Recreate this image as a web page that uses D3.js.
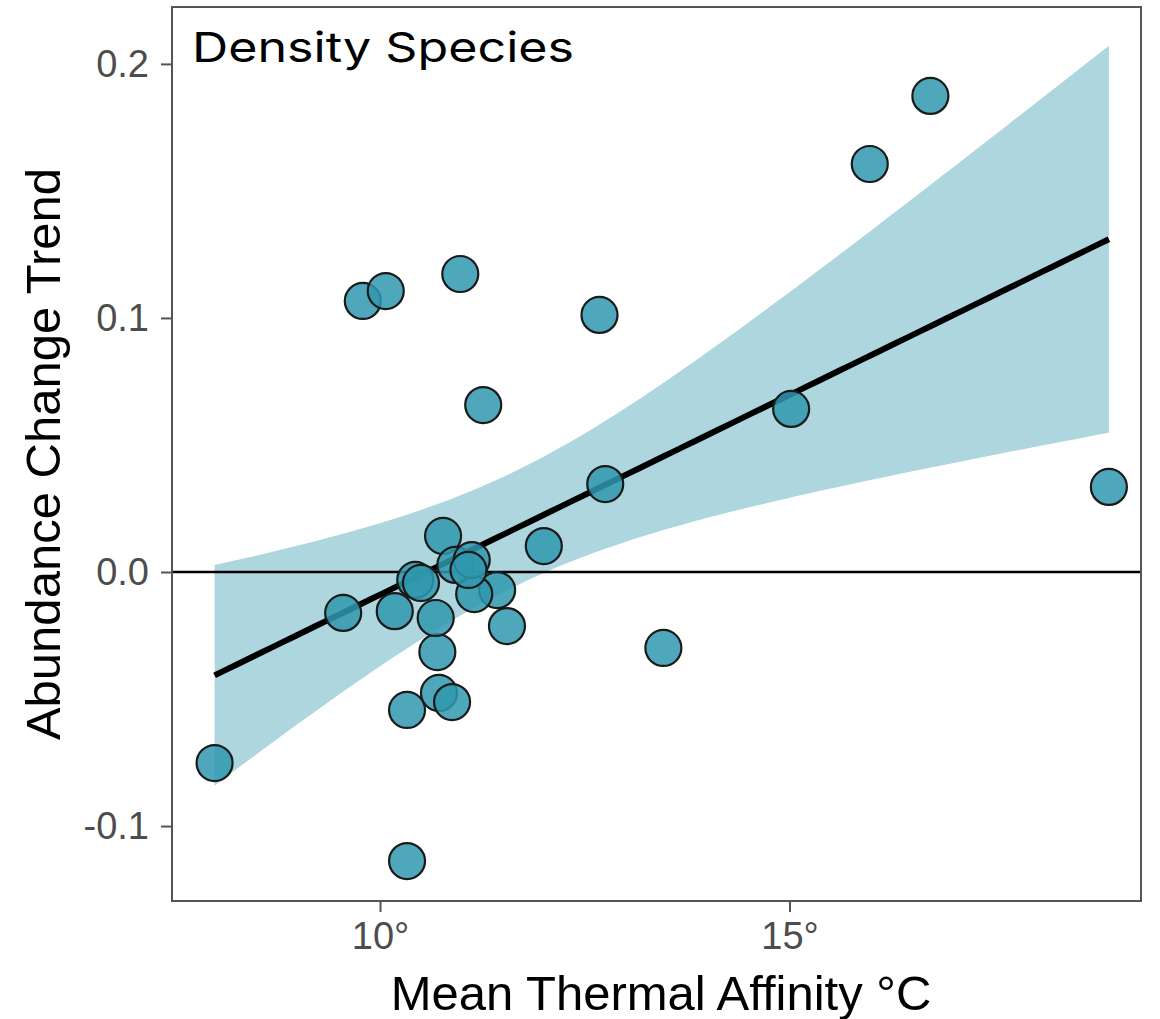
<!DOCTYPE html>
<html>
<head>
<meta charset="utf-8">
<script src="https://cdn.jsdelivr.net/npm/d3@7"></script>
<style>
	body { margin: 0; background: #fff; }
	svg { display: block; }
</style>
</head>
<body>
<svg id="chart" width="1160" height="1019"></svg>
<script>
'use strict'

// thermal affinity (deg C) and abundance change trend, one entry per species
var thermal = [7.98, 16.72, 15.98, 9.79, 10.07, 10.98, 12.68, 11.26, 15.02, 12.75,
	18.90, 12.00, 10.77, 13.46, 9.55, 10.18, 10.33, 10.33, 10.72, 10.88,
	10.70, 10.68, 11.55, 11.43, 11.15, 10.43, 10.50, 10.92, 11.12, 11.08];
var trend = [-0.0752, 0.1874, 0.1606, 0.1067, 0.1106, 0.1173, 0.1012, 0.0657, 0.0642, 0.0346,
	0.0335, 0.0102, 0.0142, -0.0299, -0.0161, -0.0154, -0.1138, -0.0543, -0.0476, -0.0512,
	-0.0315, -0.0181, -0.0213, -0.0071, -0.0087, -0.0031, -0.0043, 0.0028, 0.0047, 0.0008];

var xTicks = [10, 15];
var yTicks = [-0.1, 0.0, 0.1, 0.2];
var title = 'Density Species';
var xTitle = 'Mean Thermal Affinity °C';
var yTitle = 'Abundance Change Trend';

var panel = { left: 172, right: 1141, top: 7, bottom: 901 };

var svg = d3.select('#chart');

var xScale = d3.scaleLinear()
	.domain([7.460, 19.292])
	.range([panel.left, panel.right]);
var yScale = d3.scaleLinear()
	.domain([-0.1295, 0.2224])
	.range([panel.bottom, panel.top]);

// linear fit with 95% confidence band, like geom_smooth(method = 'lm')
var n = thermal.length;
var mx = d3.mean(thermal), my = d3.mean(trend);
var sxx = d3.sum(thermal, function(x){ return (x - mx) * (x - mx); });
var sxy = d3.sum(thermal, function(x, i){ return (x - mx) * (trend[i] - my); });
var slope = sxy / sxx;
var icpt = my - slope * mx;
var sse = d3.sum(thermal, function(x, i){ var r = trend[i] - (icpt + slope * x); return r * r; });
var se = Math.sqrt(sse / (n - 2));
var tq = 2.048;

var xs = d3.range(0, 81).map(function(i){
	var lo = d3.min(thermal), hi = d3.max(thermal);
	return lo + (hi - lo) * i / 80;
});
var band = xs.map(function(x){
	var fit = icpt + slope * x;
	var w = tq * se * Math.sqrt(1 / n + (x - mx) * (x - mx) / sxx);
	return { x: x, fit: fit, lo: fit - w, hi: fit + w };
});

svg.append('clipPath')
	.attr('id', 'panel-clip')
	.append('rect')
	.attr('x', panel.left)
	.attr('y', panel.top)
	.attr('width', panel.right - panel.left)
	.attr('height', panel.bottom - panel.top);

var plot = svg.append('g').attr('clip-path', 'url(#panel-clip)');

plot.append('path')
	.datum(band)
	.attr('fill', '#add6de')
	.attr('d', d3.area()
		.x(function(d){ return xScale(d.x); })
		.y0(function(d){ return yScale(d.lo); })
		.y1(function(d){ return yScale(d.hi); }));

plot.append('line')
	.attr('x1', panel.left)
	.attr('x2', panel.right)
	.attr('y1', yScale(0))
	.attr('y2', yScale(0))
	.attr('stroke', '#000')
	.attr('stroke-width', 2.5);

plot.append('path')
	.datum(band)
	.attr('fill', 'none')
	.attr('stroke', '#000')
	.attr('stroke-width', 6)
	.attr('d', d3.line()
		.x(function(d){ return xScale(d.x); })
		.y(function(d){ return yScale(d.fit); }));

plot.append('g')
	.selectAll('circle')
	.data(thermal)
	.enter()
	.append('circle')
	.attr('cx', function(d){ return xScale(d); })
	.attr('cy', function(d, i){ return yScale(trend[i]); })
	.attr('r', 18)
	.attr('fill', '#2f98ae')
	.attr('fill-opacity', 0.85)
	.attr('stroke', '#1a1a1a')
	.attr('stroke-width', 2.2);

// panel border
svg.append('rect')
	.attr('x', panel.left)
	.attr('y', panel.top)
	.attr('width', panel.right - panel.left)
	.attr('height', panel.bottom - panel.top)
	.attr('fill', 'none')
	.attr('stroke', '#555')
	.attr('stroke-width', 2);

svg.append('g')
	.attr('transform', `translate(0, ${panel.bottom})`)
	.call(d3.axisBottom(xScale)
		.tickValues(xTicks)
		.tickSize(11)
		.tickPadding(10)
		.tickFormat(function(d){ return d + '°'; }));

svg.append('g')
	.attr('transform', `translate(${panel.left}, 0)`)
	.call(d3.axisLeft(yScale)
		.tickValues(yTicks)
		.tickSize(11)
		.tickPadding(12)
		.tickFormat(function(d){ return d.toFixed(1); }));

svg.selectAll('.domain').remove();
svg.selectAll('.tick line')
	.attr('stroke', '#555')
	.attr('stroke-width', 2);
svg.selectAll('.tick text')
	.attr('fill', '#4d4d4d')
	.attr('font-family', '"Liberation Sans", Arial, sans-serif')
	.attr('font-size', 38);

svg.append('text')
	.attr('x', 661)
	.attr('y', 1010)
	.attr('text-anchor', 'middle')
	.attr('font-family', '"Liberation Sans", Arial, sans-serif')
	.attr('font-size', 49)
	.attr('fill', '#000')
	.text(xTitle);

svg.append('text')
	.attr('transform', `translate(60, ${(panel.top + panel.bottom) / 2}) rotate(-90)`)
	.attr('text-anchor', 'middle')
	.attr('font-family', '"Liberation Sans", Arial, sans-serif')
	.attr('font-size', 49)
	.attr('fill', '#000')
	.text(yTitle);

svg.append('text')
	.attr('x', 192)
	.attr('y', 62)
	.attr('font-family', 'Inter, "Noto Sans", sans-serif')
	.attr('font-size', 41)
	.attr('textLength', 382)
	.attr('lengthAdjust', 'spacingAndGlyphs')
	.attr('fill', '#000')
	.text(title);
</script>
</body>
</html>
